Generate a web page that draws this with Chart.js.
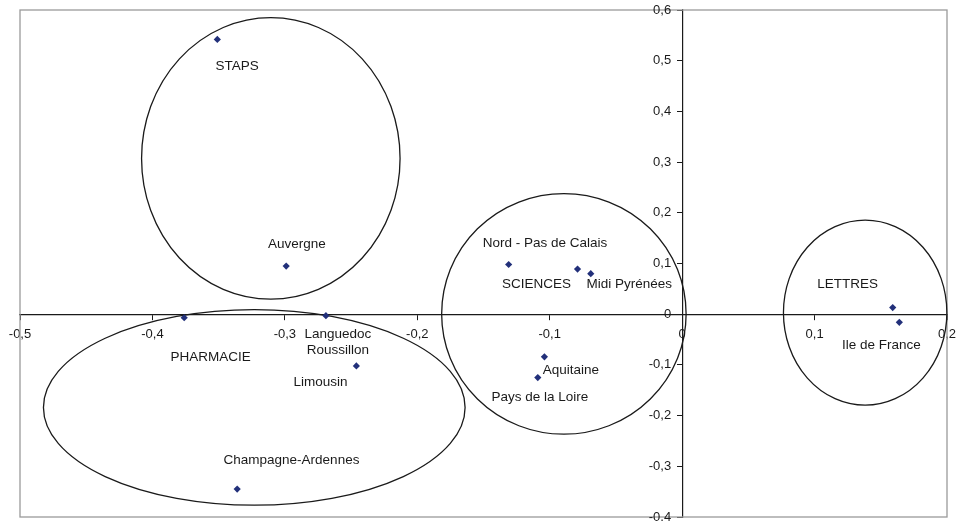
<!DOCTYPE html>
<html>
<head>
<meta charset="utf-8">
<script src="https://cdn.jsdelivr.net/npm/chart.js@4.4.1/dist/chart.umd.min.js"></script>
<style>
  html, body { margin: 0; padding: 0; background: #ffffff; }
  #wrap { width: 963px; height: 521px; }
</style>
</head>
<body>
<div id="wrap"><canvas id="chartAfc"></canvas></div>
<script>
// ===== AFC - filières / régions =====

const names = ['STAPS', 'Auvergne', 'PHARMACIE', 'Languedoc Roussillon', 'Limousin',
  'Champagne-Ardennes', 'Nord - Pas de Calais', 'SCIENCES', 'Midi Pyrénées',
  'Aquitaine', 'Pays de la Loire', 'LETTRES', 'Ile de France'];
const axe1 = [-0.351, -0.299, -0.376, -0.269, -0.246, -0.336, -0.131, -0.079, -0.069, -0.104, -0.109, 0.159, 0.164];
const axe2 = [0.542, 0.095, -0.007, -0.003, -0.102, -0.345, 0.098, 0.089, 0.080, -0.084, -0.125, 0.013, -0.016];

// label text and where it sits (in axis units)
const labelText = ['STAPS', 'Auvergne', 'PHARMACIE', 'Languedoc\nRoussillon', 'Limousin',
  'Champagne-Ardennes', 'Nord - Pas de Calais', 'SCIENCES', 'Midi Pyrénées',
  'Aquitaine', 'Pays de la Loire', 'LETTRES', 'Ile de France'];
const labelX = [-0.336, -0.291, -0.356, -0.260, -0.273, -0.295, -0.1035, -0.110, -0.040, -0.084, -0.1075, 0.125, 0.1505];
const labelY = [0.489, 0.138, -0.085, -0.056, -0.1335, -0.288, 0.139, 0.0586, 0.0586, -0.1105, -0.163, 0.059, -0.061];

// groups circled on the plane: centre and half-axes (axis units)
const groupCx = [-0.3106, -0.3231, -0.0893, 0.1382];
const groupCy = [0.3073, -0.1838, 0.0006, 0.0030];
const groupRx = [0.0976, 0.1592, 0.0923, 0.0617];
const groupRy = [0.2777, 0.1929, 0.2373, 0.1824];

const xTicks = [-0.5, -0.4, -0.3, -0.2, -0.1, 0, 0.1, 0.2];
const yTicks = [-0.4, -0.3, -0.2, -0.1, 0, 0.1, 0.2, 0.3, 0.4, 0.5, 0.6];

Chart.defaults.font.family = "'Liberation Sans', Arial, sans-serif";
Chart.defaults.color = '#1a1a1a';
Chart.defaults.animation = false;

function fmt(v) {
  if (Math.abs(v) < 1e-9) return '0';
  return v.toFixed(1).replace('.', ',');
}

function noPad(axis) {
  axis.paddingLeft = 0;
  axis.paddingRight = 0;
  axis.paddingTop = 0;
  axis.paddingBottom = 0;
}

// frame, ellipses and point names
const decor = {
  id: 'decor',
  beforeDatasetsDraw(chart) {
    const {ctx, chartArea: a, scales: {x, y}} = chart;
    ctx.save();
    ctx.strokeStyle = '#9a9a9a';
    ctx.lineWidth = 1.3;
    ctx.strokeRect(a.left, a.top, a.right - a.left, a.bottom - a.top);

    ctx.strokeStyle = '#1a1a1a';
    ctx.lineWidth = 1.3;
    const ux = x.getPixelForValue(1) - x.getPixelForValue(0);
    const uy = y.getPixelForValue(0) - y.getPixelForValue(1);
    for (let i = 0; i < groupCx.length; i++) {
      ctx.beginPath();
      ctx.ellipse(x.getPixelForValue(groupCx[i]), y.getPixelForValue(groupCy[i]),
        groupRx[i] * ux, groupRy[i] * uy, 0, 0, Math.PI * 2);
      ctx.stroke();
    }

    ctx.fillStyle = '#1a1a1a';
    ctx.font = "13.5px 'Liberation Sans', Arial, sans-serif";
    ctx.textAlign = 'center';
    ctx.textBaseline = 'middle';
    for (let i = 0; i < labelText.length; i++) {
      const lines = labelText[i].split('\n');
      const cx = x.getPixelForValue(labelX[i]);
      const cy = y.getPixelForValue(labelY[i]);
      const lh = 16;
      lines.forEach((ln, k) => {
        ctx.fillText(ln, cx, cy + (k - (lines.length - 1) / 2) * lh);
      });
    }
    ctx.restore();
  },
  afterDraw(chart) {
    // y tick labels, left of the centred axis
    const {ctx, scales: {x, y}} = chart;
    const ax = x.getPixelForValue(0);
    ctx.save();
    ctx.fillStyle = '#1a1a1a';
    ctx.font = "13px 'Liberation Sans', Arial, sans-serif";
    ctx.textAlign = 'right';
    ctx.textBaseline = 'middle';
    y.ticks.forEach(t => {
      ctx.fillText(fmt(t.value), ax - 11, y.getPixelForValue(t.value));
    });
    ctx.restore();
  }
};

const ctxAfc = document.getElementById('chartAfc');
if (ctxAfc) {
  new Chart(ctxAfc, {
    type: 'scatter',
    data: {
      datasets: [{
        label: 'AFC',
        data: axe1.map((v, i) => ({x: v, y: axe2[i]})),
        backgroundColor: '#22307a',
        borderColor: '#22307a',
        pointStyle: 'rectRot',
        pointRadius: 3.6,
        borderWidth: 0,
      }]
    },
    options: {
      responsive: true,
      maintainAspectRatio: false,
      layout: { padding: { left: 20, top: 10, right: 16, bottom: 4 } },
      plugins: {
        legend: { display: false },
        tooltip: { enabled: false }
      },
      scales: {
        x: {
          type: 'linear',
          min: -0.5,
          max: 0.2,
          position: { y: 0 },
          afterBuildTicks: axis => { axis.ticks = xTicks.map(v => ({value: v})); },
          afterFit: noPad,
          grid: { drawOnChartArea: false, drawTicks: true, tickLength: 5, color: '#1a1a1a' },
          border: { display: true, color: '#1a1a1a', width: 1.2 },
          ticks: { font: { size: 13 }, padding: 7, maxRotation: 0, callback: v => fmt(v) }
        },
        y: {
          type: 'linear',
          min: -0.4,
          max: 0.6,
          position: { x: 0 },
          afterBuildTicks: axis => { axis.ticks = yTicks.map(v => ({value: v})); },
          afterFit: noPad,
          grid: { drawOnChartArea: false, drawTicks: true, tickLength: 5, color: '#1a1a1a' },
          border: { display: true, color: '#1a1a1a', width: 1.2 },
          ticks: { display: false }
        }
      }
    },
    plugins: [decor]
  });
}
</script>
</body>
</html>
